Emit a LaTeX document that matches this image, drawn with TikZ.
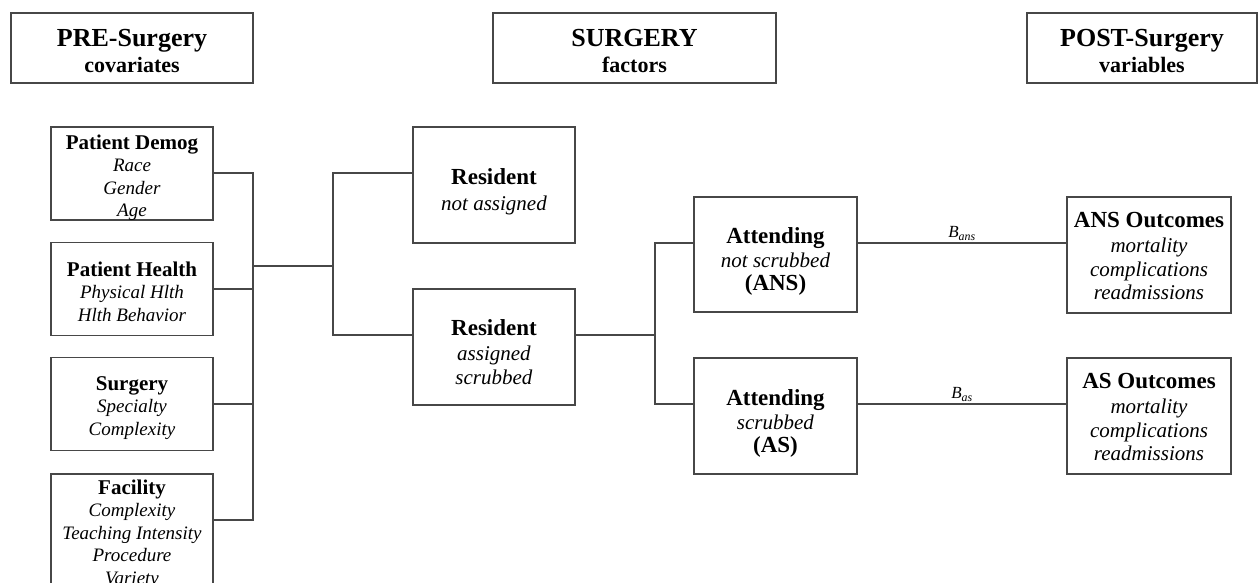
\documentclass[tikz,border=0pt]{standalone}
\usepackage{fontspec}
\setmainfont{Liberation Serif}
\begin{document}
\begin{tikzpicture}[x=1pt,y=-1pt,
  ln/.style={draw=black!72, line width=1.1pt},
  hdr/.style={ln, inner sep=0pt},
  hdrt/.style={align=center, inner sep=0pt, font=\bfseries\fontsize{22}{26}\selectfont},
  lbox/.style={ln, inner sep=0pt, minimum width=162pt, minimum height=93pt},
  lt/.style={align=center, inner sep=0pt, font=\fontsize{19}{22.5}\selectfont},
  mbox/.style={ln, inner sep=0pt, minimum width=163pt, minimum height=116pt},
  mt/.style={align=center, inner sep=0pt, font=\fontsize{21}{23.5}\selectfont},
  wire/.style={ln},
  coef/.style={font=\fontsize{17}{20}\selectfont\itshape, inner sep=2pt}
]
\useasboundingbox (0,0) rectangle (1258,583);
\clip (0,0) rectangle (1258,583);
\fill[white] (0,0) rectangle (1258,583);

\newcommand{\lttl}[1]{{\fontsize{21}{22.5}\selectfont\bfseries #1}}
\newcommand{\mttl}[1]{{\fontsize{23}{24}\selectfont\bfseries #1}}
\newcommand{\bigh}[1]{{\fontsize{26}{26}\selectfont #1}}

% headers
\node[hdr, minimum width=242pt, minimum height=70pt, label={[hdrt, yshift=-3pt]center:{\bigh{PRE-Surgery}\\ covariates}}] (pre) at (132,48) {};
\node[hdr, minimum width=283pt, minimum height=70pt, label={[hdrt, yshift=-3pt]center:{\bigh{SURGERY}\\ factors}}] (surg) at (634.5,48) {};
\node[hdr, minimum width=230pt, minimum height=70pt, label={[hdrt, yshift=-3pt]center:{\bigh{POST-Surgery}\\ variables}}] (post) at (1142,48) {};

% pre-surgery covariates
\node[lbox, label={[lt, yshift=-4pt]center:{\lttl{Patient Demog}\\ \textit{Race}\\ \textit{Gender}\\ \textit{Age}}}] (demog) at (132,173.5) {};
\node[lbox, label={[lt, yshift=-2.5pt]center:{\lttl{Patient Health}\\ \textit{Physical Hlth}\\ \textit{Hlth Behavior}}}] (health) at (132,289) {};
\node[lbox, label={[lt, yshift=-4pt]center:{\lttl{Surgery}\\ \textit{Specialty}\\ \textit{Complexity}}}] (surgery) at (132,404) {};
\node[lbox, minimum height=116pt, label={[lt, yshift=-2pt]center:{\lttl{Facility}\\ \textit{Complexity}\\ \textit{Teaching Intensity}\\ \textit{Procedure}\\ \textit{Variety}}}] (facility) at (132,532) {};

% surgery factors
\node[mbox, minimum width=162pt, label={[mt, yshift=-7pt]center:{\mttl{Resident}\\[2pt] \textit{not assigned}}}] (resNA) at (494,185) {};
\node[mbox, minimum width=162pt, label={[mt, yshift=-5pt]center:{\mttl{Resident}\\[2pt] \textit{assigned}\\ \textit{scrubbed}}}] (resA) at (494,347) {};
\node[mbox, minimum height=115pt, label={[mt, yshift=-7pt]center:{\mttl{Attending}\\ \textit{not scrubbed}\\ \mttl{(ANS)}}}] (attNS) at (775.5,254.5) {};
\node[mbox, label={[mt, yshift=-7.5pt]center:{\mttl{Attending}\\ \textit{scrubbed}\\ \mttl{(AS)}}}] (attS) at (775.5,416) {};

% outcomes
\node[mbox, minimum width=164pt, label={[mt, yshift=-1pt]center:{\mttl{ANS Outcomes}\\[2pt] \textit{mortality}\\ \textit{complications}\\ \textit{readmissions}}}] (outNS) at (1149,255) {};
\node[mbox, minimum width=164pt, label={[mt, yshift=-1pt]center:{\mttl{AS Outcomes}\\[2pt] \textit{mortality}\\ \textit{complications}\\ \textit{readmissions}}}] (outS) at (1149,416) {};

% junctions
\coordinate (b1top) at (253,173);
\coordinate (b1bot) at (253,520);
\coordinate (j1) at (253,266);
\coordinate (j2) at (333,266);
\coordinate (j3) at (655,335);

% covariate bus
\draw[wire] (demog.east |- b1top) -- (b1top) -- (b1bot) -- (facility.east |- b1bot);
\draw[wire] (health.east) -- (health.east -| b1top);
\draw[wire] (surgery.east) -- (surgery.east -| b1top);
\draw[wire] (j1) -- (j2);
\draw[wire] ([yshift=12pt]resNA.west) -| (j2) |- ([yshift=12pt]resA.west);

% resident to attending
\draw[wire] ([yshift=12pt]resA.east) -- (j3);
\draw[wire] ([yshift=11.5pt]attNS.west) -| (j3) |- ([yshift=12pt]attS.west);

% attending to outcomes
\draw[wire] ([yshift=11.5pt]attNS.east) -- node[coef, above] {B\textsubscript{ans}} ([yshift=12pt]outNS.west);
\draw[wire] ([yshift=12pt]attS.east) -- node[coef, above] {B\textsubscript{as}} ([yshift=12pt]outS.west);
\end{tikzpicture}
\end{document}
